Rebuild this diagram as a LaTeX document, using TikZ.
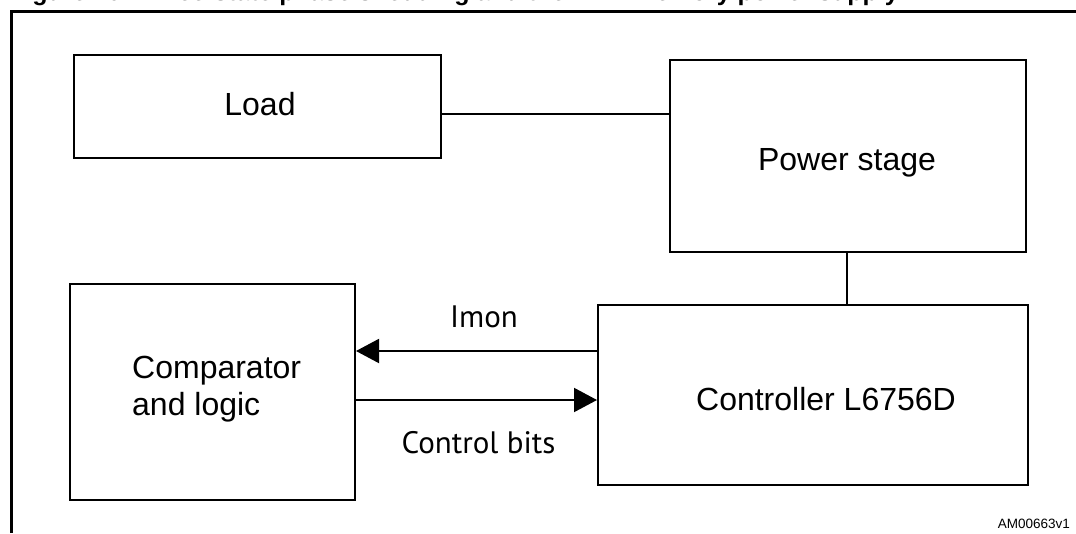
\documentclass[tikz,border=0pt]{standalone}
\usepackage{fontspec}
\setmainfont{Liberation Sans}
\newfontfamily\humfont{PT Sans}
\usetikzlibrary{arrows.meta}
\begin{document}
\begin{tikzpicture}[x=1pt,y=-1pt,
  block/.style={draw, line width=2pt, inner sep=0pt},
  wire/.style={line width=2pt},
  sig/.style={line width=2pt, -{Triangle[length=23pt,width=24pt]}},
  boxtext/.style={inner sep=0pt, font=\fontsize{32}{37}\selectfont},
  sigtext/.style={inner sep=0pt, anchor=base, font=\humfont\fontsize{31}{36}\selectfont},
]
\useasboundingbox (0,0) rectangle (1076,533);

% caption line, cut by the top edge of the page
\begin{scope}
  \clip (0,0) rectangle (1076,533);
  \node[anchor=base west, inner sep=0pt, font=\bfseries\fontsize{25}{30}\selectfont]
    (caption) at (10,0.5) {Figure 10. Three-state phase shedding and the DDR memory power supply};
\end{scope}

% outer frame (top and left sides)
\draw[line width=2.5pt] (11.5,533) -- (11.5,11.5) -- (1076,11.5);

% blocks
\node[block, minimum width=367pt, minimum height=103pt] (load)  at (257.5,106.5) {};
\node[block, minimum width=356pt, minimum height=192pt] (power) at (848,156) {};
\node[block, minimum width=430pt, minimum height=180pt] (ctrl)  at (813,395) {};
\node[block, minimum width=285pt, minimum height=216pt] (comp)  at (212.5,392) {};

% block labels
\node[boxtext, anchor=base] (loadtxt)  at (260,115) {Load};
\node[boxtext, anchor=base] (powertxt) at (847,170) {Power stage};
\node[boxtext, anchor=base] (ctrltxt)  at (826,410) {Controller L6756D};
\node[boxtext, anchor=base west, align=left] (comptxt1) at (132,378) {Comparator};
\node[boxtext, anchor=base west, align=left] (comptxt2) at (132,415) {and logic};

% connections
\draw[wire] ([yshift=-7.5pt]load.east) -- ([yshift=-7.5pt]load.east -| power.west);
\draw[wire] ([xshift=-1pt]power.south) -- ([xshift=-1pt]power.south |- ctrl.north);
\draw[sig] ([yshift=44pt]ctrl.west) -- ([yshift=44pt]ctrl.west -| comp.east);
\draw[sig] ([yshift=-8pt]comp.east) -- ([yshift=-8pt]comp.east -| ctrl.west);

% signal labels
\node[sigtext] (imon) at (484,327) {Imon};
\node[sigtext] (cbits) at (478.5,453) {Control bits};

% drawing reference
\node[anchor=base east, inner sep=0pt, font=\fontsize{13.5}{16}\selectfont] (ref) at (1070,528) {AM00663v1};
\end{tikzpicture}
\end{document}
